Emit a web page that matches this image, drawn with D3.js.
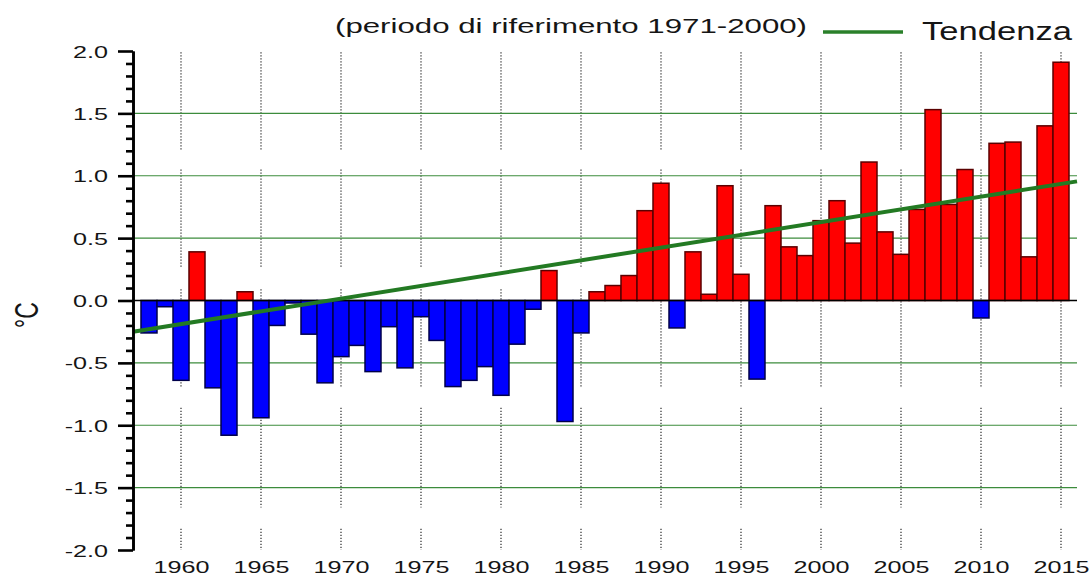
<!DOCTYPE html>
<html>
<head>
<meta charset="utf-8">
<script src="https://d3js.org/d3.v7.min.js"></script>
<style>
  body { margin: 0; background: #fff; }
  svg text { font-family: "Liberation Sans", Arial, sans-serif; fill: #151515; }
  .grid line { stroke: #3c8c3c; stroke-width: 1.2; }
  .dots line { stroke: #2a2a2a; stroke-width: 1.2; stroke-dasharray: 1.2,1.8; }
  .bar { stroke-width: 1.5; }
  .bar.pos { fill: #ff0000; stroke: #5a0000; }
  .bar.neg { fill: #0000ff; stroke: #00004a; }
  .axis path, .axis line { stroke: #000; stroke-width: 2.6; }
</style>
</head>
<body>
<script>
// values
var years = [1958, 1959, 1960, 1961, 1962, 1963, 1964, 1965, 1966, 1967,
             1968, 1969, 1970, 1971, 1972, 1973, 1974, 1975, 1976, 1977,
             1978, 1979, 1980, 1981, 1982, 1983, 1984, 1985, 1986, 1987,
             1988, 1989, 1990, 1991, 1992, 1993, 1994, 1995, 1996, 1997,
             1998, 1999, 2000, 2001, 2002, 2003, 2004, 2005, 2006, 2007,
             2008, 2009, 2010, 2011, 2012, 2013, 2014, 2015];
var anomalies = [-0.26, -0.05, -0.64, 0.39, -0.70, -1.08, 0.07, -0.94, -0.20, -0.02,
                 -0.27, -0.66, -0.45, -0.36, -0.57, -0.21, -0.54, -0.13, -0.32, -0.69,
                 -0.64, -0.53, -0.76, -0.35, -0.07, 0.24, -0.97, -0.26, 0.07, 0.12,
                 0.20, 0.72, 0.94, -0.22, 0.39, 0.05, 0.92, 0.21, -0.63, 0.76,
                 0.43, 0.36, 0.64, 0.80, 0.46, 1.11, 0.55, 0.37, 0.73, 1.53,
                 0.77, 1.05, -0.14, 1.26, 1.27, 0.35, 1.40, 1.91];
var trendYears = [1957, 2016];
var trendValues = [-0.25, 0.955];
var xTicks = [1960, 1965, 1970, 1975, 1980, 1985, 1990, 1995, 2000, 2005, 2010, 2015];
var yTicks = [-2.0, -1.5, -1.0, -0.5, 0.0, 0.5, 1.0, 1.5, 2.0];
var gridValues = [-1.5, -1.0, -0.5, 0.5, 1.0, 1.5];
var titleText = "(periodo di riferimento 1971-2000)";
var legendLabel = "Tendenza";
var yLabel = "°C";

var width = 1092, height = 577,
    sx = 1.48; // the picture is stretched sideways, so is its text

var svg = d3.select("body")
  .append("svg")
    .attr("width", width)
    .attr("height", height);

var x = d3.scaleLinear().domain([1957, 2016]).range([133, 1077]);
var y = d3.scaleLinear().domain([-2, 2]).range([550, 51]);

//
// dotted verticals, broken in a few places like the original
//
var dotSegments = [[1.99, 1.21], [1.05, 0.26], [0.09, -0.70], [-0.86, -1.66], [-1.83, -2.0]];
var dots = svg.append("g").attr("class", "dots");
xTicks.forEach(function(t) {
  dots.selectAll(null)
    .data(dotSegments)
    .enter()
    .append("line")
    .attr("x1", x(t)).attr("x2", x(t))
    .attr("y1", function(d) { return y(d[0]); })
    .attr("y2", function(d) { return y(d[1]); });
});

// green horizontal grid
svg.append("g")
  .attr("class", "grid")
  .selectAll("line")
  .data(gridValues)
  .enter()
  .append("line")
  .attr("x1", x(1957)).attr("x2", x(2016))
  .attr("y1", function(d) { return y(d); })
  .attr("y2", function(d) { return y(d); });

//
// bars
//
var rows = years.map(function(yr, i) { return { year: yr, value: anomalies[i] }; });
svg.append("g")
  .selectAll("rect")
  .data(rows)
  .enter()
  .append("rect")
  .attr("class", function(d) { return d.value >= 0 ? "bar pos" : "bar neg"; })
  .attr("x", function(d) { return x(d.year - 0.5); })
  .attr("width", function(d) { return x(d.year + 0.5) - x(d.year - 0.5); })
  .attr("y", function(d) { return y(Math.max(0, d.value)); })
  .attr("height", function(d) { return Math.abs(y(d.value) - y(0)); });

// zero line
svg.append("line")
  .attr("x1", x(1957)).attr("x2", x(2016))
  .attr("y1", y(0)).attr("y2", y(0))
  .attr("stroke", "#000")
  .attr("stroke-width", 1.6);

// trend line
var trend = trendYears.map(function(yr, i) { return [yr, trendValues[i]]; });
svg.append("path")
  .datum(trend)
  .attr("fill", "none")
  .attr("stroke", "#237a23")
  .attr("stroke-width", 4)
  .attr("d", d3.line()
    .x(function(d) { return x(d[0]); })
    .y(function(d) { return y(d[1]); }));

//
// y axis: major ticks with labels, minor ticks every 0.1
//
var minor = d3.range(-20, 21).map(function(i) { return i / 10; })
  .filter(function(v) { return Math.abs(v * 2 - Math.round(v * 2)) > 1e-6; });

svg.append("g")
  .attr("class", "axis")
  .attr("transform", "translate(133,0)")
  .call(d3.axisLeft(y).tickValues(minor).tickSize(7).tickSizeOuter(0).tickFormat(""));

var yAxis = svg.append("g")
  .attr("class", "axis")
  .attr("transform", "translate(133,0)")
  .call(d3.axisLeft(y).tickValues(yTicks).tickSize(15).tickSizeOuter(0)
    .tickFormat(function(d) { return d.toFixed(1); }));
yAxis.selectAll("text")
  .attr("x", null)
  .attr("dy", "0.36em")
  .attr("transform", "translate(-25,0) scale(" + sx + ",1)")
  .attr("text-anchor", "end")
  .attr("font-size", 17)
  .style("font-family", "'Liberation Sans', Arial, sans-serif")
  .attr("fill", "#222");

// x axis: labels only
var xAxis = svg.append("g")
  .attr("transform", "translate(0," + y(-2) + ")")
  .call(d3.axisBottom(x).tickValues(xTicks).tickSize(0).tickFormat(d3.format("d")));
xAxis.select(".domain").remove();
xAxis.selectAll("text")
  .attr("y", null)
  .attr("dy", null)
  .attr("transform", "translate(0,23) scale(" + sx + ",1)")
  .attr("font-size", 17)
  .style("font-family", "'Liberation Sans', Arial, sans-serif")
  .attr("fill", "#222");

// unit label
svg.append("text")
  .attr("transform", "translate(38,315) scale(" + sx + ",1) rotate(-90)")
  .attr("text-anchor", "middle")
  .attr("font-size", 23)
  .text(yLabel);

// title
svg.append("text")
  .attr("x", 335)
  .attr("y", 33)
  .attr("font-size", 21)
  .attr("textLength", 472)
  .attr("lengthAdjust", "spacingAndGlyphs")
  .text(titleText);

//
// legend
//
svg.append("line")
  .attr("x1", 823).attr("x2", 903)
  .attr("y1", 32).attr("y2", 32)
  .attr("stroke", "#2a802a")
  .attr("stroke-width", 3.5);
svg.append("text")
  .attr("x", 922)
  .attr("y", 40)
  .attr("font-size", 25)
  .attr("textLength", 150)
  .attr("lengthAdjust", "spacingAndGlyphs")
  .text(legendLabel);
</script>
</body>
</html>
